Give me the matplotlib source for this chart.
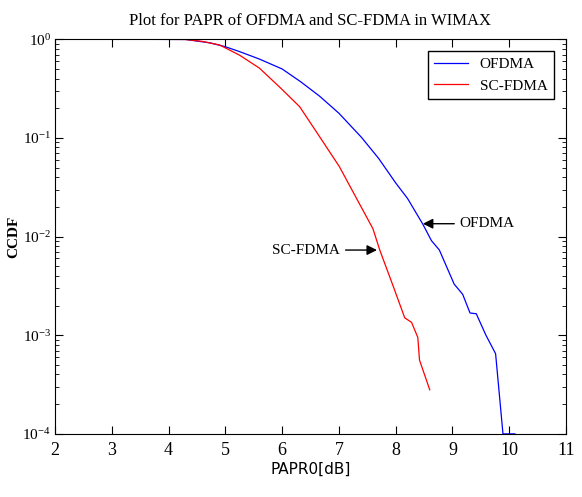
import matplotlib
matplotlib.use("Agg")
from matplotlib import pyplot as plt

plt.rcParams["mathtext.fontset"] = "stix"

# values (PAPR0 in dB, CCDF)
ofdma_x = [3.0, 4.3, 4.73, 5.0, 5.25, 5.6, 6.0, 6.33, 6.66, 7.0, 7.4, 7.7, 8.0, 8.21,
           8.48, 8.63, 8.77, 9.03, 9.18, 9.31, 9.42, 9.59, 9.76, 9.89, 10.1]
ofdma_y = [1.0, 0.995, 0.92, 0.84, 0.75, 0.63, 0.50, 0.37, 0.265, 0.178, 0.101, 0.062,
           0.035, 0.0243, 0.0133, 0.0091, 0.0073, 0.0033, 0.0026, 0.00168, 0.00165,
           0.001, 0.00065, 0.0001, 0.0001]
scfdma_x = [3.47, 4.3, 4.6, 4.9, 5.25, 5.6, 5.95, 6.31, 6.66, 7.01, 7.36, 7.6, 7.72,
            7.96, 8.16, 8.28, 8.39, 8.42, 8.6]
scfdma_y = [1.0, 0.995, 0.95, 0.875, 0.69, 0.51, 0.33, 0.207, 0.103, 0.051, 0.0216,
            0.012, 0.0073, 0.0031, 0.0015, 0.00135, 0.00095, 0.00056, 0.00028]

serif = ["Liberation Serif", "DejaVu Serif"]

fig = plt.figure(figsize=(5.82, 4.97), dpi=100)
ax = fig.add_axes([0.0945, 0.127, 0.878, 0.794])

ax.semilogy(ofdma_x, ofdma_y, color="blue", lw=0.9, label="OFDMA")
ax.semilogy(scfdma_x, scfdma_y, color="red", lw=0.9, label="SC-FDMA")

ax.set_xlim(2, 11)
ax.set_ylim(1e-4, 1)
ax.set_xticks(range(2, 12))

ax.tick_params(which="both", direction="in", top=True, right=True)
ax.tick_params(which="major", length=6)
ax.tick_params(which="minor", length=3)
ax.tick_params(axis="x", labelsize=13, pad=6)
ax.tick_params(axis="y", labelsize=11, pad=3)
for lab in ax.get_xticklabels() + ax.get_yticklabels():
    lab.set_family(serif)

ax.set_title("Plot for PAPR of OFDMA and SC-FDMA in WIMAX", family=serif, fontsize=12, pad=10)
ax.set_xlabel("PAPR0[dB]", family=["Liberation Sans Narrow", "DejaVu Sans"], fontsize=11, labelpad=2)
ax.set_ylabel("CCDF", family=serif, fontsize=11, fontweight="bold")
ax.yaxis.set_label_coords(-0.068, 0.5)

ax.annotate("OFDMA", xy=(8.43, 0.0135), xytext=(9.13, 0.0135), family=serif, fontsize=11,
            va="center", ha="left",
            arrowprops=dict(arrowstyle="-|>", color="black", lw=1, mutation_scale=15))
ax.annotate("SC-FDMA", xy=(7.72, 0.0073), xytext=(7.02, 0.0073), family=serif, fontsize=11,
            va="center", ha="right",
            arrowprops=dict(arrowstyle="-|>", color="black", lw=1, mutation_scale=15))

leg = ax.legend(loc="upper right", prop={"family": serif, "size": 11}, fancybox=False,
                edgecolor="black", handlelength=2.2, borderaxespad=0.8, framealpha=1)
leg.get_frame().set_linewidth(1)

fig.savefig("out.png", dpi=100)
